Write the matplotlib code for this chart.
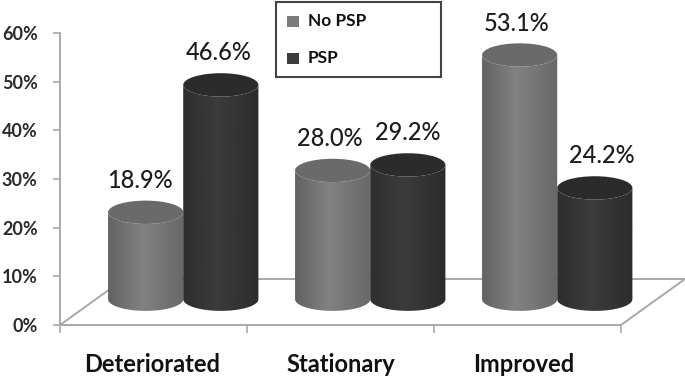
import numpy as np
import matplotlib
matplotlib.use("Agg")
import matplotlib.pyplot as plt
from matplotlib.patches import Ellipse, Polygon, Rectangle

categories = ["Deteriorated", "Stationary", "Improved"]
no_psp = [18.9, 28.0, 53.1]
psp = [46.6, 29.2, 24.2]
y_ticks = [0, 10, 20, 30, 40, 50, 60]

W, H = 685, 377
plt.rcParams["font.family"] = ["Lato", "DejaVu Sans"]

fig = plt.figure(figsize=(W / 100, H / 100), dpi=100)
ax = fig.add_axes([60 / W, (H - 325) / H, 561 / W, 292 / H])
ax.set_facecolor("none")

# floor of the 3d box
depth_x, depth_y = 0.342, 9.45
n = len(categories)
floor = [(0, 0), (depth_x, depth_y), (n + depth_x, depth_y), (n, 0)]
ax.add_patch(Polygon(floor, closed=True, fill=False, edgecolor="#a8a8a8", lw=1.4,
                     clip_on=False, zorder=1))

base = 5.3
squash = 0.945
bar_w = 0.402
cap_h = 4.8


def cylinder(x0, value, stops, cap_color, z):
    top = base + value * squash
    xm = x0 + bar_w / 2
    t = np.linspace(np.pi, 2 * np.pi, 60)
    low = np.column_stack([xm + bar_w / 2 * np.cos(t), base + cap_h / 2 * np.sin(t)])
    up = np.column_stack([xm + bar_w / 2 * np.cos(t[::-1]), top + cap_h / 2 * np.sin(t[::-1])])
    outline = Polygon(np.vstack([low, up]), closed=True, transform=ax.transData,
                      facecolor="none", edgecolor="none", clip_on=False)
    ax.add_patch(outline)
    pos = np.linspace(0, 1, 256)
    shade = np.interp(pos, [0, 0.45, 1], stops).reshape(1, -1)
    im = ax.imshow(shade, extent=[x0, x0 + bar_w, base - cap_h, top + cap_h], cmap="gray",
                   vmin=0, vmax=255, aspect="auto", zorder=z, interpolation="bilinear")
    # the last cylinder sticks out of the axes, so clip to the figure and the outline only
    im.set_clip_box(fig.bbox)
    im.set_clip_path(outline)
    cap = Ellipse((xm, top), bar_w, cap_h, facecolor=cap_color, edgecolor="none",
                  zorder=z + 0.1, clip_on=False)
    ax.add_patch(cap)


for i in range(n):
    cylinder(i + 0.257, no_psp[i], [98, 130, 104], "#6a6a6a", 2 + i)
    cylinder(i + 0.659, psp[i], [46, 60, 44], "#2b2b2b", 2.5 + i)

ax.set_xlim(0, n)
ax.set_ylim(0, 60)

# value labels
label_dx = [[-6, -3, -3], [-2, 0, 7]]
for j, vals in enumerate([no_psp, psp]):
    for i, v in enumerate(vals):
        x = i + (0.257 if j == 0 else 0.659) + bar_w / 2
        ax.annotate(f"{v:.1f}%", (x, base + v * squash), xytext=(label_dx[j][i] * 0.72, 23),
                    textcoords="offset points", ha="center", va="center",
                    fontsize=17, color="#1c1c1c", fontweight="medium", zorder=10)

for s in ["top", "right", "bottom"]:
    ax.spines[s].set_visible(False)
ax.spines["left"].set_color("#a8a8a8")
ax.spines["left"].set_linewidth(1.4)

ax.set_yticks(y_ticks)
ax.set_yticklabels([f"{v}%" for v in y_ticks], fontsize=13, color="#2a2a2a", fontweight="bold")
ax.tick_params(axis="y", length=5, width=1.2, color="#a8a8a8", pad=11)
ax.set_xticks(range(n + 1))
ax.set_xticklabels([""] * (n + 1))
ax.tick_params(axis="x", length=6, width=1.2, color="#a8a8a8")
cat_dx = [-1, 0, -3]
for i, name in enumerate(categories):
    ax.annotate(name, (i + 0.5, 0), xytext=(cat_dx[i], -28.5), textcoords="offset points", ha="center",
                va="center", fontsize=17, fontweight="bold", color="#111111")

# legend box
fig.add_artist(Rectangle((276 / W, 1 - 77 / H), 165 / W, 75 / H, transform=fig.transFigure,
                         facecolor="white", edgecolor="#444444", lw=1.5, zorder=20))
for y, name, col in [(21, "No PSP", "#7b7b7b"), (58, "PSP", "#3c3c3c")]:
    fig.add_artist(Rectangle((287 / W, 1 - (y + 5.5) / H), 12 / W, 11 / H, transform=fig.transFigure,
                             facecolor=col, edgecolor="none", zorder=21))
    fig.text(308 / W, 1 - y / H, name, fontsize=12.4, fontweight="bold", color="#111111",
             va="center", ha="left", zorder=21)

fig.savefig("out.png", dpi=100)
